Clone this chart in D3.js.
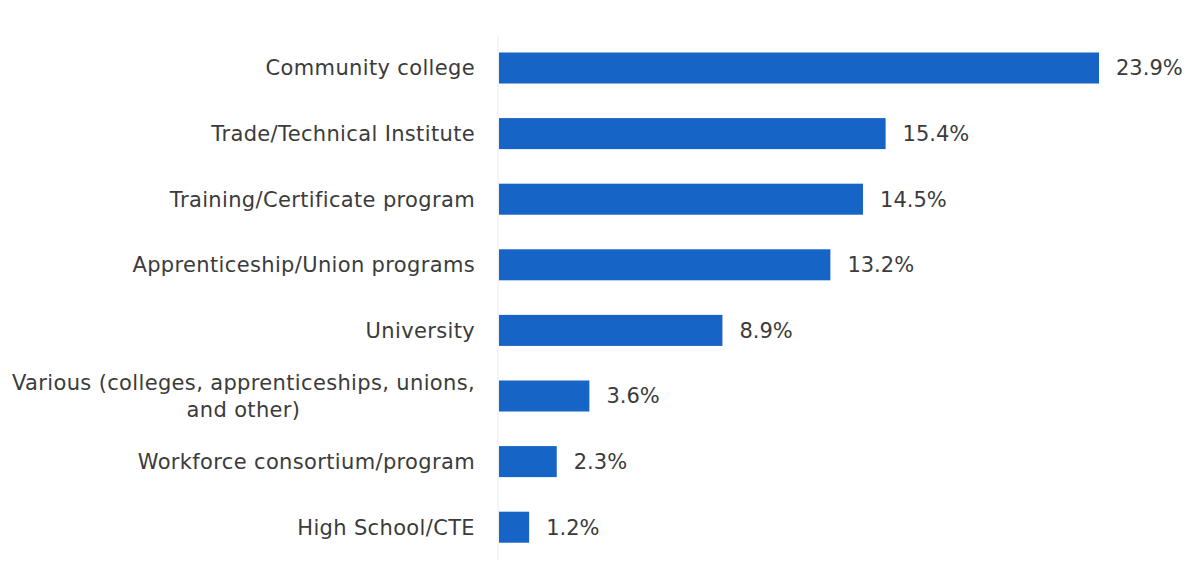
<!DOCTYPE html>
<html>
<head>
<meta charset="utf-8">
<script src="https://cdn.jsdelivr.net/npm/d3@7"></script>
<style>
  html, body { margin: 0; padding: 0; background: #ffffff; }
  svg { display: block; }
  text { font-family: "DejaVu Sans", sans-serif; }
</style>
</head>
<body>
<svg id="chart" width="1190" height="585"></svg>
<script>
// Share of respondents by provider type (%)
const categories = [
  ["Community college"],
  ["Trade/Technical Institute"],
  ["Training/Certificate program"],
  ["Apprenticeship/Union programs"],
  ["University"],
  ["Various (colleges, apprenticeships, unions,", "and other)"],
  ["Workforce consortium/program"],
  ["High School/CTE"]
];
const values = [23.9, 15.4, 14.5, 13.2, 8.9, 3.6, 2.3, 1.2];
const valueLabels = ["23.9%", "15.4%", "14.5%", "13.2%", "8.9%", "3.6%", "2.3%", "1.2%"];

const svg = d3.select("#chart");
const plotLeft = 499;
const labelRight = 475;
const barColor = "#1764C7";
const textColor = "#3b3b3b";
const fontSize = 21;

const rows = categories.map((c, i) => ({ lines: c, value: values[i], label: valueLabels[i], key: i }));

const x = d3.scaleLinear().domain([0, 23.9]).range([0, 600]);
const y = d3.scaleBand()
  .domain(rows.map(d => d.key))
  .range([35.2, 560])
  .paddingInner(0.527)
  .paddingOuter(0.2635);

const g = svg.append("g").attr("transform", `translate(${plotLeft},0)`);

// category axis line
g.append("line")
  .attr("x1", -1).attr("x2", -1)
  .attr("y1", y.range()[0]).attr("y2", y.range()[1])
  .attr("stroke", "#ebebeb").attr("stroke-width", 1);

g.selectAll("rect.bar")
  .data(rows)
  .join("rect")
  .attr("class", "bar")
  .attr("x", 0)
  .attr("y", d => y(d.key))
  .attr("width", d => x(d.value))
  .attr("height", y.bandwidth())
  .attr("fill", barColor);

g.selectAll("text.value")
  .data(rows)
  .join("text")
  .attr("class", "value")
  .attr("x", d => x(d.value) + 17)
  .attr("y", d => y(d.key) + y.bandwidth() / 2)
  .attr("dy", "0.35em")
  .attr("font-size", fontSize)
  .attr("fill", textColor)
  .text(d => d.label);

// category labels, right aligned; wrapped lines centred within their block
const lineHeight = 27;
const labels = svg.append("g");
rows.forEach(d => {
  const cy = y(d.key) + y.bandwidth() / 2;
  const t = labels.append("text")
    .attr("font-size", fontSize)
    .attr("letter-spacing", 0.35)
    .attr("fill", textColor);
  const n = d.lines.length;
  const spans = d.lines.map((line, j) =>
    t.append("tspan")
      .attr("y", cy + (j - (n - 1) / 2) * lineHeight)
      .attr("dy", "0.35em")
      .text(line));
  const widths = spans.map(s => s.node().getComputedTextLength());
  const blockW = d3.max(widths);
  spans.forEach(s => {
    s.attr("x", labelRight - blockW / 2).attr("text-anchor", "middle");
  });
});
</script>
</body>
</html>
